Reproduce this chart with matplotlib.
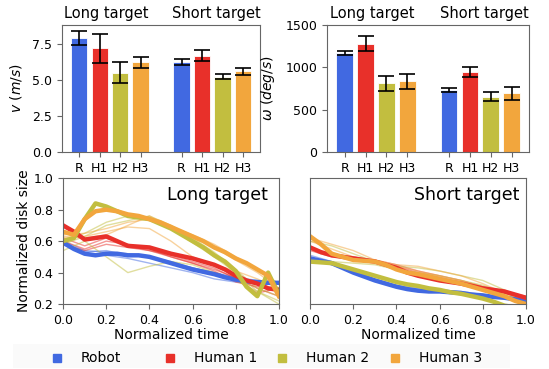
#!/usr/bin/env python3
"""Speed / angular speed bars and disk-size traces, long vs short target."""

import numpy as np
import matplotlib
matplotlib.use('Agg')
import matplotlib.pyplot as plt
from matplotlib.lines import Line2D
from matplotlib.patches import Rectangle

COLORS = ['#4169e1', '#e8302a', '#c2be3f', '#f2a63d']
NAMES = ['Robot', 'Human 1', 'Human 2', 'Human 3']
TICK_LABELS = ['R', 'H1', 'H2', 'H3']

# bar data: [long target R,H1,H2,H3], [short target R,H1,H2,H3]
v_long = [7.88, 7.18, 5.51, 6.22]
v_long_err = [0.48, 1.02, 0.70, 0.38]
v_short = [6.22, 6.66, 5.23, 5.59]
v_short_err = [0.22, 0.38, 0.19, 0.24]

w_long = [1172, 1282, 812, 838]
w_long_err = [22, 88, 87, 89]
w_short = [732, 943, 655, 695]
w_short_err = [24, 62, 57, 79]

# disk-size traces (thick = mean, thin = single trials)
t_mean = np.linspace(0, 1, 21)
t_trial = np.linspace(0, 1, 11)

long_mean = {
    'Robot': [0.59, 0.55, 0.52, 0.51, 0.52, 0.52, 0.51, 0.51, 0.50, 0.48, 0.46,
              0.44, 0.42, 0.405, 0.39, 0.37, 0.355, 0.345, 0.34, 0.335, 0.335],
    'Human 1': [0.70, 0.66, 0.61, 0.62, 0.63, 0.60, 0.57, 0.565, 0.56, 0.54, 0.52,
                0.505, 0.49, 0.47, 0.45, 0.42, 0.38, 0.35, 0.33, 0.30, 0.29],
    'Human 2': [0.60, 0.62, 0.74, 0.84, 0.82, 0.79, 0.76, 0.75, 0.74, 0.71, 0.68,
                0.64, 0.60, 0.56, 0.51, 0.47, 0.41, 0.31, 0.25, 0.40, 0.26],
    'Human 3': [0.66, 0.64, 0.74, 0.79, 0.80, 0.79, 0.77, 0.76, 0.74, 0.72, 0.69,
                0.66, 0.63, 0.60, 0.56, 0.53, 0.49, 0.46, 0.42, 0.38, 0.25],
}
long_trials = {
    'Robot': [[0.58, 0.52, 0.51, 0.49, 0.46, 0.43, 0.40, 0.36, 0.34, 0.33, 0.33],
              [0.60, 0.54, 0.53, 0.52, 0.50, 0.47, 0.43, 0.40, 0.37, 0.35, 0.34],
              [0.59, 0.53, 0.54, 0.51, 0.50, 0.46, 0.43, 0.40, 0.36, 0.34, 0.33]],
    'Human 1': [[0.60, 0.55, 0.60, 0.58, 0.55, 0.50, 0.46, 0.42, 0.37, 0.30, 0.25],
                [0.62, 0.57, 0.62, 0.57, 0.54, 0.51, 0.47, 0.43, 0.36, 0.27, 0.30],
                [0.58, 0.54, 0.58, 0.56, 0.54, 0.50, 0.46, 0.41, 0.34, 0.31, 0.28]],
    'Human 2': [[0.54, 0.60, 0.50, 0.40, 0.44, 0.47, 0.45, 0.40, 0.35, 0.28, 0.22],
                [0.58, 0.63, 0.70, 0.73, 0.76, 0.70, 0.62, 0.53, 0.42, 0.30, 0.25],
                [0.60, 0.65, 0.72, 0.76, 0.75, 0.68, 0.59, 0.50, 0.40, 0.28, 0.20]],
    'Human 3': [[0.64, 0.65, 0.68, 0.72, 0.74, 0.70, 0.63, 0.56, 0.48, 0.40, 0.30],
                [0.63, 0.62, 0.64, 0.70, 0.76, 0.69, 0.64, 0.58, 0.50, 0.42, 0.33],
                [0.62, 0.63, 0.66, 0.69, 0.68, 0.60, 0.50, 0.45, 0.41, 0.36, 0.30]],
}

short_mean = {
    'Robot': [0.49, 0.475, 0.46, 0.43, 0.40, 0.375, 0.35, 0.33, 0.31, 0.295, 0.285,
              0.28, 0.28, 0.275, 0.27, 0.26, 0.255, 0.245, 0.24, 0.23, 0.225],
    'Human 1': [0.56, 0.53, 0.51, 0.50, 0.49, 0.48, 0.47, 0.45, 0.43, 0.40, 0.38,
                0.365, 0.35, 0.34, 0.33, 0.315, 0.30, 0.29, 0.28, 0.26, 0.24],
    'Human 2': [0.47, 0.465, 0.46, 0.44, 0.42, 0.40, 0.38, 0.36, 0.34, 0.325, 0.315,
                0.30, 0.29, 0.275, 0.265, 0.25, 0.235, 0.215, 0.19, 0.18, 0.17],
    'Human 3': [0.63, 0.58, 0.52, 0.50, 0.48, 0.475, 0.47, 0.45, 0.42, 0.40, 0.39,
                0.375, 0.36, 0.345, 0.33, 0.31, 0.29, 0.27, 0.25, 0.22, 0.20],
}
short_trials = {
    'Robot': [[0.50, 0.45, 0.40, 0.35, 0.31, 0.29, 0.28, 0.27, 0.26, 0.24, 0.23],
              [0.51, 0.47, 0.41, 0.36, 0.32, 0.30, 0.29, 0.28, 0.26, 0.25, 0.23]],
    'Human 1': [[0.55, 0.52, 0.50, 0.48, 0.45, 0.41, 0.38, 0.35, 0.31, 0.28, 0.25],
                [0.54, 0.50, 0.49, 0.47, 0.44, 0.40, 0.37, 0.34, 0.30, 0.27, 0.24]],
    'Human 2': [[0.60, 0.57, 0.52, 0.47, 0.44, 0.43, 0.41, 0.38, 0.35, 0.29, 0.22],
                [0.49, 0.47, 0.46, 0.45, 0.42, 0.40, 0.38, 0.35, 0.32, 0.27, 0.22]],
    'Human 3': [[0.62, 0.58, 0.54, 0.48, 0.45, 0.44, 0.41, 0.38, 0.33, 0.27, 0.22],
                [0.60, 0.55, 0.50, 0.47, 0.44, 0.41, 0.38, 0.35, 0.31, 0.26, 0.21]],
}

SPINE = '#666666'


def style_axes(ax):
    for s in ax.spines.values():
        s.set_color(SPINE)
    ax.tick_params(labelsize=9, color=SPINE)


def bar_panel(ax, long_vals, long_err, short_vals, short_err, ylabel, ylim):
    x = np.array([0, 1, 2, 3, 5, 6, 7, 8])
    vals = list(long_vals) + list(short_vals)
    errs = list(long_err) + list(short_err)
    ax.bar(x, vals, width=0.8, color=COLORS * 2, edgecolor='white', linewidth=0.6,
           yerr=errs, capsize=6, error_kw={'elinewidth': 1.2, 'capthick': 1.2})
    ax.set_xticks(x)
    ax.set_xticklabels(TICK_LABELS * 2)
    ax.set_ylim(*ylim)
    ax.set_ylabel(ylabel, fontsize=10, labelpad=6)
    style_axes(ax)
    for xc, label in [(1.3, 'Long target'), (6.7, 'Short target')]:
        ax.text(xc, 1.03, label, transform=ax.get_xaxis_transform(),
                ha='center', va='bottom', fontsize=10.5)


def trace_panel(ax, means, trials, title, title_x, order):
    for name, color in zip(NAMES, COLORS):
        for tr in trials[name]:
            ax.plot(t_trial, tr, color=color, lw=1.0, alpha=0.5)
    for name in order:
        ax.plot(t_mean, means[name], color=COLORS[NAMES.index(name)], lw=3.2)
    ax.set_xlim(0, 1)
    ax.set_ylim(0.2, 1.0)
    ax.set_xticks([0, 0.2, 0.4, 0.6, 0.8, 1.0])
    ax.set_xlabel('Normalized time', fontsize=10, labelpad=1)
    ax.text(title_x, 0.94, title, transform=ax.transAxes, ha='right', va='top',
            fontsize=12.5)
    style_axes(ax)


fig = plt.figure(figsize=(5.49, 3.69), dpi=100)
ax_v = fig.add_axes([0.113, 0.588, 0.361, 0.344])
ax_w = fig.add_axes([0.596, 0.588, 0.368, 0.344])
ax_l = fig.add_axes([0.115, 0.176, 0.393, 0.341])
ax_s = fig.add_axes([0.565, 0.176, 0.393, 0.341])

bar_panel(ax_v, v_long, v_long_err, v_short, v_short_err, r'$v\ (m/s)$', (0, 8.8))
ax_v.set_yticks([0, 2.5, 5.0, 7.5])
bar_panel(ax_w, w_long, w_long_err, w_short, w_short_err, r'$\omega\ (deg/s)$', (0, 1500))
ax_w.set_yticks([0, 500, 1000, 1500])

trace_panel(ax_l, long_mean, long_trials, 'Long target', 0.95,
            ['Robot', 'Human 1', 'Human 2', 'Human 3'])
ax_l.set_ylabel('Normalized disk size', fontsize=10, labelpad=2)
ax_l.set_yticks([0.2, 0.4, 0.6, 0.8, 1.0])
trace_panel(ax_s, short_mean, short_trials, 'Short target', 0.97,
            ['Robot', 'Human 2', 'Human 1', 'Human 3'])
ax_s.tick_params(left=False, labelleft=False)

# legend row with evenly spaced entries
W, H = 549.0, 369.0
fig.patches.append(Rectangle((13 / W, 1 / H), 497 / W, 24 / H, transform=fig.transFigure,
                             facecolor='#fafafa', edgecolor='none', zorder=0))
leg_y = 1 - 358 / H
for i, (name, color) in enumerate(zip(NAMES, COLORS)):
    hx = (57 + 112.5 * i) / W
    fig.add_artist(Line2D([hx], [leg_y], transform=fig.transFigure, ls='none',
                          marker='s', markersize=6, color=color))
    fig.text(hx + 24 / W, leg_y, name, fontsize=10, ha='left', va='center')

fig.savefig('out.png', dpi=100)
